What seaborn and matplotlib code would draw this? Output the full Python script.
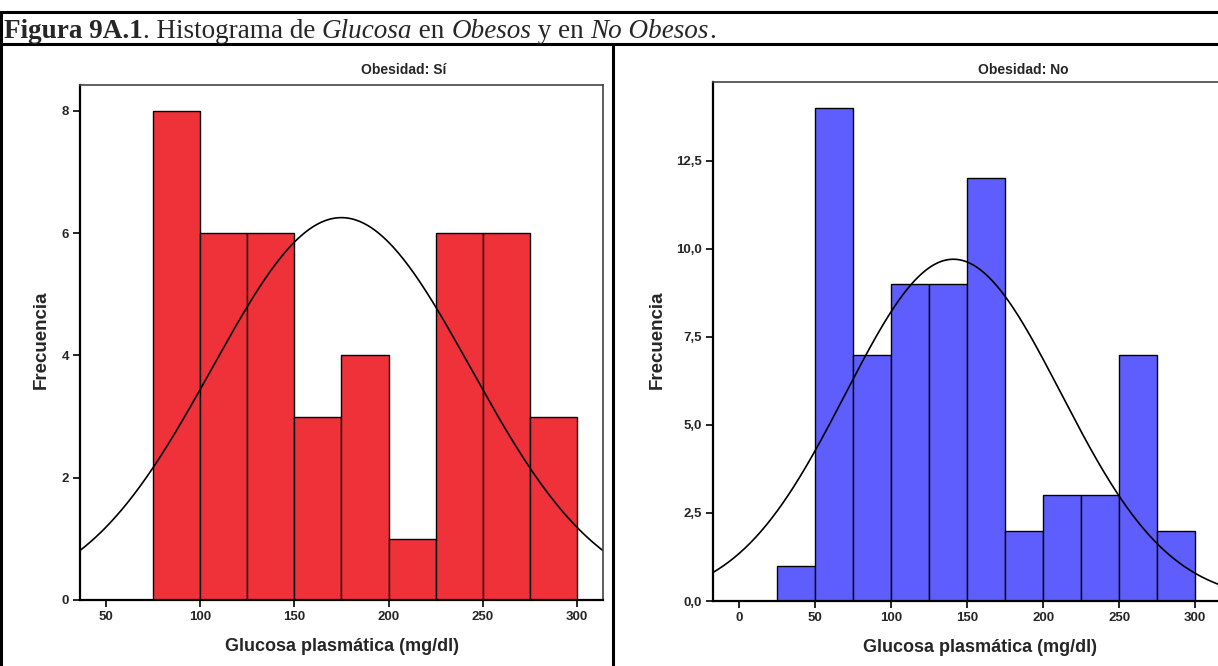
import numpy as np
import matplotlib
matplotlib.use("Agg")
import matplotlib.pyplot as plt
from matplotlib.lines import Line2D
from matplotlib.ticker import FuncFormatter
import seaborn as sns

# Histogram data (bins of 25 mg/dl)
obesos_edges = [75, 100, 125, 150, 175, 200, 225, 250, 275, 300]
obesos_counts = [8, 6, 6, 3, 4, 1, 6, 6, 3]
obesos_mean, obesos_sd = 175, 68.6

no_obesos_edges = [25, 50, 75, 100, 125, 150, 175, 200, 225, 250, 275, 300]
no_obesos_counts = [1, 14, 7, 9, 9, 12, 2, 3, 3, 7, 2]
no_obesos_mean, no_obesos_sd = 141, 70.9

sns.set_style("white")
plt.rcParams['font.family'] = ['Liberation Sans', 'DejaVu Sans']

W, H = 1218, 666
fig = plt.figure(figsize=(W / 100, H / 100), dpi=100)


def panel(rect, edges, counts, mean, sd, color, xlim, ylim, xticks, yticks, yfmt, title, title_x):
    ax = fig.add_axes(rect)
    centers = [(a + b) / 2 for a, b in zip(edges[:-1], edges[1:])]
    sns.histplot(x=centers, weights=counts, bins=edges, color=color, alpha=1,
                 edgecolor='black', linewidth=1, ax=ax)
    # fitted normal curve
    n = sum(counts)
    bw = edges[1] - edges[0]
    xs = np.linspace(xlim[0], xlim[1], 400)
    ys = n * bw / (sd * np.sqrt(2 * np.pi)) * np.exp(-(xs - mean) ** 2 / (2 * sd ** 2))
    sns.lineplot(x=xs, y=ys, color='black', linewidth=1.2, ax=ax)
    ax.set_xlim(*xlim)
    ax.set_ylim(*ylim)
    ax.set_xticks(xticks)
    ax.set_yticks(yticks)
    ax.yaxis.set_major_formatter(FuncFormatter(yfmt))
    ax.tick_params(direction='out', length=5, width=1.2, color='black', labelsize=9.5,
                   bottom=True, left=True, pad=3)
    for lab in ax.get_xticklabels() + ax.get_yticklabels():
        lab.set_fontweight('bold')
    for s in ['left', 'bottom']:
        ax.spines[s].set_color('black')
        ax.spines[s].set_linewidth(1.6)
    for s in ['top', 'right']:
        ax.spines[s].set_color('#444444')
        ax.spines[s].set_linewidth(1.2)
    ax.set_xlabel('Glucosa plasmática (mg/dl)', fontsize=13, fontweight='bold')
    ax.set_ylabel('Frecuencia', fontsize=13.5, fontweight='bold')
    fig.text(title_x / W, 1 - 70 / H, title, ha='center', va='center',
             fontsize=10, fontweight='bold')
    return ax


axl = panel([80 / W, 66 / H, 523 / W, 515 / H], obesos_edges, obesos_counts,
            obesos_mean, obesos_sd, '#EF323A', (36.3, 313.8), (0, 8.42),
            [50, 100, 150, 200, 250, 300], [0, 2, 4, 6, 8],
            lambda v, p: f"{v:.0f}", 'Obesidad: Sí', 404)
axl.yaxis.set_label_coords(-0.057, 0.505)
axl.xaxis.set_label_coords(0.501, -0.074)

axr = panel([713 / W, 65 / H, 534 / W, 519 / H], no_obesos_edges, no_obesos_counts,
            no_obesos_mean, no_obesos_sd, '#5E5EFF', (-17, 334), (0, 14.74),
            [0, 50, 100, 150, 200, 250, 300], [0, 2.5, 5, 7.5, 10, 12.5],
            lambda v, p: f"{v:.1f}".replace('.', ','), 'Obesidad: No', 1023)
axr.yaxis.set_label_coords(-0.088, 0.503)
axr.xaxis.set_label_coords(0.5, -0.073)

# table frame around the figure
frame = dict(color='black', linewidth=2.2, transform=fig.transFigure, clip_on=False)
fig.add_artist(Line2D([0, 1], [1 - 12 / H, 1 - 12 / H], **frame))
fig.add_artist(Line2D([0, 1], [1 - 44 / H, 1 - 44 / H], **frame))
fig.add_artist(Line2D([1 / W, 1 / W], [0, 1 - 12 / H], **frame))
fig.add_artist(Line2D([613 / W, 613 / W], [0, 1 - 44 / H], **frame))

# caption pieces (bold / regular / italic)
pieces = [('Figura 9A.1', 'bold', 'normal'), ('. Histograma de ', 'normal', 'normal'),
          ('Glucosa', 'normal', 'italic'), (' en ', 'normal', 'normal'),
          ('Obesos', 'normal', 'italic'), (' y en ', 'normal', 'normal'),
          ('No Obesos', 'normal', 'italic'), ('.', 'normal', 'normal')]
fig.canvas.draw()
renderer = fig.canvas.get_renderer()
x = 4
for txt, w, st in pieces:
    tx = fig.text(x / W, 1 - 38 / H, txt, fontsize=19.5, fontweight=w, fontstyle=st,
                  family='Liberation Serif', va='baseline', ha='left')
    bb = tx.get_window_extent(renderer=renderer)
    x += bb.width

fig.savefig('out.png', dpi=100)
